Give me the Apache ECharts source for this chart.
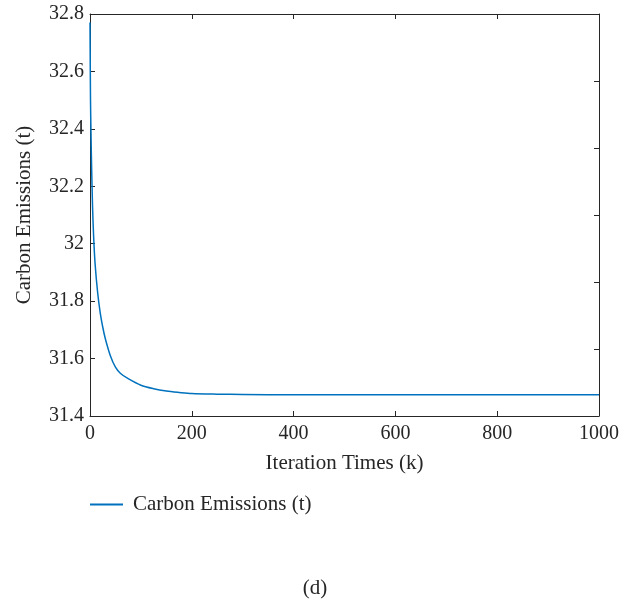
<!DOCTYPE html>
<html>
<head>
<meta charset="utf-8">
<script src="https://cdn.jsdelivr.net/npm/echarts@6/dist/echarts.min.js"></script>
<style>
  html, body { margin: 0; padding: 0; background: #fff; }
  #chart { width: 630px; height: 601px; }
</style>
</head>
<body>
<div id="chart"></div>
<script>
// iteration index k and carbon emissions (t)
const iterations = [0, 1, 2, 3, 5, 7, 10, 15, 20, 25, 30, 40, 50, 60, 75, 100, 125, 150, 175, 200, 250, 300, 400, 500, 600, 700, 800, 900, 1000];
const emissions = [32.77, 32.5, 32.38, 32.28, 32.13, 32.03, 31.93, 31.83, 31.76, 31.71, 31.67, 31.61, 31.57, 31.548, 31.53, 31.507, 31.495, 31.487, 31.482, 31.478, 31.476, 31.475, 31.474, 31.474, 31.474, 31.474, 31.474, 31.474, 31.474];
const seriesName = 'Carbon Emissions (t)';
const xTitle = 'Iteration Times (k)';
const yTitle = 'Carbon Emissions (t)';
const panelLabel = '(d)';

const font = 'Liberation Serif';
const ink = '#262626';

const chart = echarts.init(document.getElementById('chart'));

// top / right edges of the box, ticks only
function frameAxis(extra) {
  return Object.assign({
    type: 'value',
    axisLine: { show: true, onZero: false, lineStyle: { color: ink, width: 1 } },
    axisTick: { show: true, inside: true, length: 5, lineStyle: { color: ink } },
    axisLabel: { show: false },
    splitLine: { show: false }
  }, extra);
}

chart.setOption({
  animation: false,
  backgroundColor: '#fff',
  textStyle: { fontFamily: font, color: ink },
  title: {
    text: panelLabel,
    left: 'center',
    top: 573,
    textStyle: { fontFamily: font, fontSize: 21, fontWeight: 'normal', color: ink }
  },
  legend: {
    data: [seriesName],
    left: 90,
    top: 494,
    padding: 0,
    itemWidth: 33,
    itemHeight: 2,
    icon: 'rect',
    textStyle: { fontFamily: font, fontSize: 21, color: ink, padding: [0, 0, 0, 5] }
  },
  grid: { left: 90, right: 31, top: 14, bottom: 185 },
  xAxis: [
    {
      type: 'value', min: 0, max: 1000, interval: 200,
      name: xTitle, nameLocation: 'middle', nameGap: 37,
      nameTextStyle: { fontFamily: font, fontSize: 21, color: ink },
      axisLine: { show: true, onZero: false, lineStyle: { color: ink } },
      axisTick: { show: true, inside: true, length: 5, lineStyle: { color: ink } },
      axisLabel: { fontFamily: font, fontSize: 20, color: ink, margin: 8, formatter: v => String(v) },
      splitLine: { show: false }
    },
    frameAxis({ position: 'top', min: 0, max: 1000, interval: 200 })
  ],
  yAxis: [
    {
      type: 'value', min: 31.4, max: 32.8, interval: 0.2,
      name: yTitle, nameLocation: 'middle', nameGap: 55,
      nameTextStyle: { fontFamily: font, fontSize: 21, color: ink },
      axisLine: { show: true, onZero: false, lineStyle: { color: ink } },
      axisTick: { show: true, inside: true, length: 5, lineStyle: { color: ink } },
      axisLabel: { fontFamily: font, fontSize: 20, color: ink, margin: 6 },
      splitLine: { show: false }
    },
    frameAxis({ position: 'right', min: 0, max: 6, interval: 1 })
  ],
  series: [
    {
      name: seriesName,
      type: 'line',
      xAxisIndex: 0,
      yAxisIndex: 0,
      data: iterations.map((k, i) => [k, emissions[i]]),
      smooth: 0.3,
      showSymbol: false,
      lineStyle: { color: '#0072BD', width: 1.5 },
      itemStyle: { color: '#0072BD' }
    }
  ]
});
</script>
</body>
</html>
